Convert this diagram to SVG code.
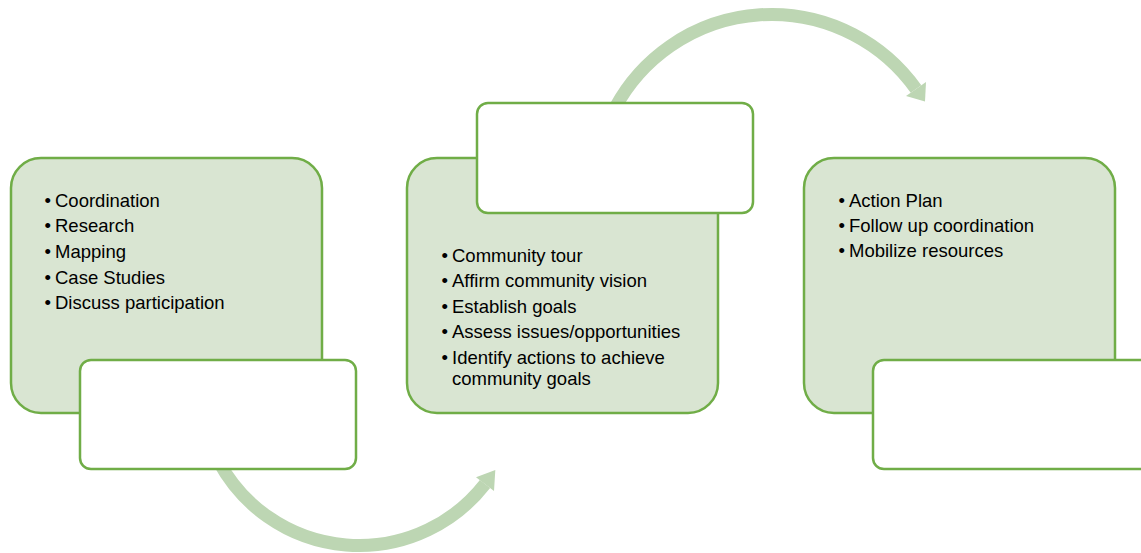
<svg xmlns="http://www.w3.org/2000/svg" width="1141" height="553" viewBox="0 0 1141 553">
<style>
.card{fill:#d9e5d2;stroke:#70ad47;stroke-width:2.5}
.label{fill:#ffffff;stroke:#70ad47;stroke-width:2.5}
.arc{fill:none;stroke:#bdd6b3;stroke-width:13}
.head{fill:#bdd6b3}
text{font-family:"Liberation Sans",Arial,sans-serif;font-size:18.5px;fill:#000}
</style>
<rect width="1141" height="553" fill="#ffffff"/>
<g id="connectors">
<path class="arc" d="M 219 462 A 159.4 159.4 0 0 0 485 484"/>
<polygon class="head" points="495.3,470 494,491 476,477.3"/>
<path class="arc" d="M 615 108 A 177.5 177.5 0 0 1 916 89"/>
<polygon class="head" points="925,101.5 926,82 906,96"/>
</g>
<g id="node1">
<rect class="card" x="11" y="158" width="311" height="255" rx="30"/>
<text x="44.5" y="207">•</text><text x="55" y="207">Coordination</text>
<text x="44.5" y="232">•</text><text x="55" y="232">Research</text>
<text x="44.5" y="258">•</text><text x="55" y="258">Mapping</text>
<text x="44.5" y="284">•</text><text x="55" y="284">Case Studies</text>
<text x="44.5" y="309">•</text><text x="55" y="309">Discuss participation</text>
</g>
<g id="label1">
<rect class="label" x="80" y="360" width="276" height="109" rx="11"/>
</g>
<g id="node2">
<rect class="card" x="407" y="158" width="311" height="255" rx="30"/>
<text x="441.5" y="262">•</text><text x="452" y="262">Community tour</text>
<text x="441.5" y="287">•</text><text x="452" y="287">Affirm community vision</text>
<text x="441.5" y="313">•</text><text x="452" y="313">Establish goals</text>
<text x="441.5" y="338">•</text><text x="452" y="338">Assess issues/opportunities</text>
<text x="441.5" y="364">•</text><text x="452" y="364">Identify actions to achieve</text>
<text x="452" y="385">community goals</text>
</g>
<g id="label2">
<rect class="label" x="477" y="103" width="276" height="110" rx="11"/>
</g>
<g id="node3">
<rect class="card" x="804" y="158" width="311" height="255" rx="30"/>
<text x="838.5" y="207">•</text><text x="849" y="207">Action Plan</text>
<text x="838.5" y="232">•</text><text x="849" y="232">Follow up coordination</text>
<text x="838.5" y="257">•</text><text x="849" y="257">Mobilize resources</text>
</g>
<g id="label3">
<rect class="label" x="873" y="360" width="280" height="109" rx="11"/>
</g>
</svg>
